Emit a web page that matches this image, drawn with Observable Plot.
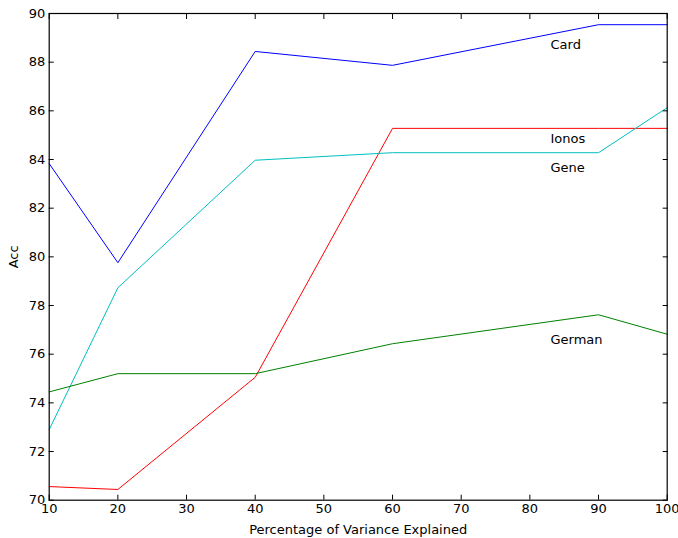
<!DOCTYPE html>
<html>
<head>
<meta charset="utf-8">
<script src="https://cdn.jsdelivr.net/npm/d3@7"></script>
<script src="https://cdn.jsdelivr.net/npm/@observablehq/plot@0.6"></script>
<style>
  html, body { margin: 0; padding: 0; background: #fff; }
  svg { font-family: "DejaVu Sans", sans-serif; }
</style>
</head>
<body>
<div id="chart"></div>
<script>
const pct = [10, 20, 40, 60, 90, 100];
const card   = [83.83, 79.76, 88.44, 87.87, 89.54, 89.54];
const ionos  = [70.56, 70.44, 75.05, 85.28, 85.28, 85.28];
const gene   = [72.90, 78.73, 83.97, 84.28, 84.28, 86.13];
const german = [74.45, 75.20, 75.20, 76.43, 77.62, 76.82];

const seriesNames  = ["Card", "Ionos", "Gene", "German"];
const seriesValues = [card, ionos, gene, german];
const seriesColors = ["#0000ff", "#ff0000", "#00bfbf", "#008000"];
const labelX = [83, 83, 83, 83];
const labelY = [88.7, 84.87, 83.67, 76.6];

const xTicks = [10, 20, 30, 40, 50, 60, 70, 80, 90, 100];
const yTicks = [70, 72, 74, 76, 78, 80, 82, 84, 86, 88, 90];

const rows = [];
seriesNames.forEach((name, i) => {
  pct.forEach((p, j) => rows.push({series: name, x: p, y: seriesValues[i][j]}));
});
const labels = seriesNames.map((name, i) => ({series: name, x: labelX[i], y: labelY[i]}));

const chart = Plot.plot({
  width: 678,
  height: 538,
  marginLeft: 48.7,
  marginRight: 11.3,
  marginTop: 13,
  marginBottom: 38.3,
  style: {fontFamily: "DejaVu Sans, sans-serif", fontSize: "13px", color: "#000", background: "#fff"},
  x: {domain: [10, 100]},
  y: {domain: [70, 90]},
  color: {domain: seriesNames, range: seriesColors},
  marks: [
    Plot.line(rows, {x: "x", y: "y", z: "series", stroke: "series", strokeWidth: 1}),
    Plot.text(labels, {x: "x", y: "y", text: "series", textAnchor: "start", fontSize: 13, fill: "#000"}),
    Plot.axisX(xTicks, {anchor: "bottom", tickSize: -5, tickPadding: 9, label: "Percentage of Variance Explained", labelAnchor: "center", labelArrow: "none", labelOffset: 34, fontSize: 13}),
    Plot.axisX(xTicks, {anchor: "top", tickSize: -5, tickFormat: () => "", label: null}),
    Plot.axisY(yTicks, {anchor: "left", tickSize: -5, tickPadding: 9, label: "Acc", labelAnchor: "center", labelArrow: "none", labelOffset: 40, fontSize: 13}),
    Plot.axisY(yTicks, {anchor: "right", tickSize: -5, tickFormat: () => "", label: null}),
    Plot.frame({stroke: "#000", strokeWidth: 1.2})
  ]
});
document.getElementById("chart").appendChild(chart);
</script>
</body>
</html>
